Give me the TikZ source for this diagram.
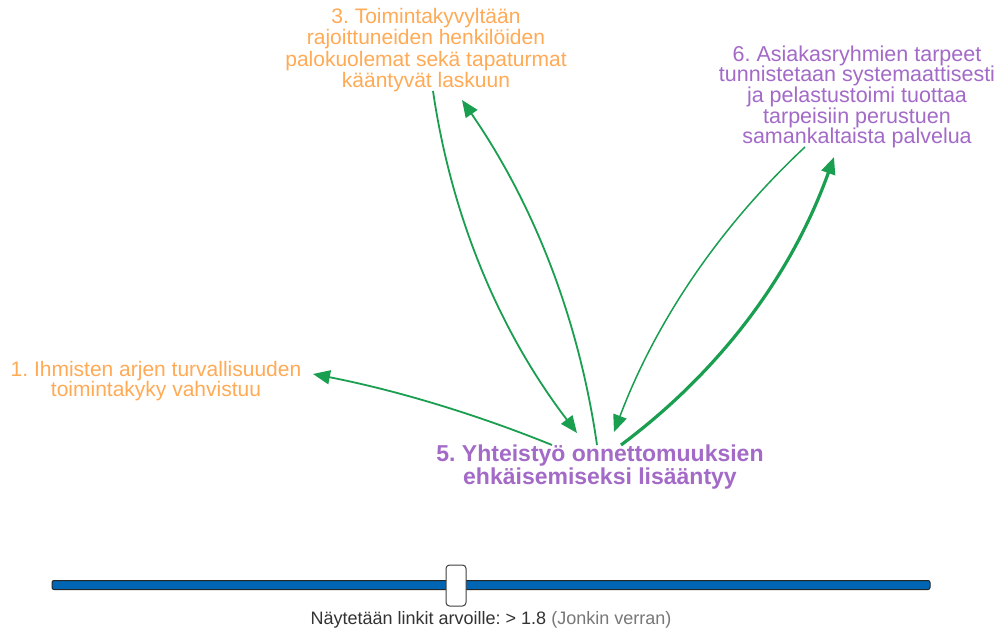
\documentclass[tikz,border=0pt]{standalone}
\usepackage{fontspec}
\setmainfont{Liberation Sans}
\usetikzlibrary{arrows.meta}
\frenchspacing
\definecolor{orangetxt}{RGB}{255,170,85}
\definecolor{purpletxt}{RGB}{163,106,199}
\definecolor{linkgreen}{RGB}{26,158,80}
\definecolor{barblue}{RGB}{0,102,179}
\definecolor{captxt}{RGB}{51,51,51}
\definecolor{capgray}{RGB}{119,119,119}
\begin{document}
\begin{tikzpicture}[x=1pt,y=-1pt,
  lbl/.style={inner sep=0pt, align=center, font=\fontsize{21}{21.3}\selectfont},
  orangelbl/.style={lbl, text=orangetxt},
  purplelbl/.style={lbl, text=purpletxt},
  link/.style={draw=linkgreen, line width=1.8pt, -{Triangle[length=17pt,width=14pt]}},
  thicklink/.style={link, line width=3.2pt},
  thinlink/.style={link, line width=1.5pt}
]
\useasboundingbox (0,0) rectangle (1000,634);
\fill[white] (0,0) rectangle (1000,634);

\node[orangelbl] (n3) at (426,50) {3. Toimintakyvyltään\\rajoittuneiden henkilöiden\\palokuolemat sekä tapaturmat\\kääntyvät laskuun};
\node[purplelbl, font=\fontsize{21.5}{20.7}\selectfont] (n6) at (857,97) {6. Asiakasryhmien tarpeet\\tunnistetaan systemaattisesti\\ja pelastustoimi tuottaa\\tarpeisiin perustuen\\samankaltaista palvelua};
\node[orangelbl, font=\fontsize{21}{20}\selectfont] (n1) at (156,381) {1. Ihmisten arjen turvallisuuden\\toimintakyky vahvistuu};
\node[purplelbl, font=\fontsize{23}{23.5}\selectfont\bfseries] (n5) at (600,467) {5. Yhteistyö onnettomuuksien\\ehkäisemiseksi lisääntyy};

% connector end points
\coordinate (a1s) at (552,445);
\coordinate (a1t) at (313,374);
\coordinate (a2s) at (433,91);
\coordinate (a2t) at (577,433);
\coordinate (a3s) at (597,445);
\coordinate (a3t) at (462,100);
\coordinate (a4s) at (805,147);
\coordinate (a4t) at (614,432);
\coordinate (a5s) at (621,445);
\coordinate (a5t) at (834,157);

\draw[link] (a1s) .. controls (474.6,413.6) and (395,390) .. (a1t);
\draw[link] (a2s) .. controls (451.5,217.4) and (499.5,331.4) .. (a2t);
\draw[link] (a3s) .. controls (579,319.4) and (534,204.4) .. (a3t);
\draw[thinlink] (a4s) .. controls (719.1,227.1) and (655.5,322.1) .. (a4t);
\draw[thicklink] (a5s) .. controls (720.9,370.4) and (791.9,274.4) .. (a5t);

% slider
\node[draw=black!85, fill=barblue, line width=1pt, rounded corners=2pt, minimum width=878pt, minimum height=9pt, inner sep=0pt] (slider) at (491,585) {};
\node[draw=black!75, fill=white, line width=1pt, rounded corners=3.5pt, minimum width=20pt, minimum height=41pt, inner sep=0pt] (knob) at (456,585.5) {};
\node[inner sep=0pt, font=\fontsize{18}{20}\selectfont, text=captxt] (cap) at (491,620) {Näytetään linkit arvoille: > 1.8 \textcolor{capgray}{(Jonkin verran)}};
\end{tikzpicture}
\end{document}
